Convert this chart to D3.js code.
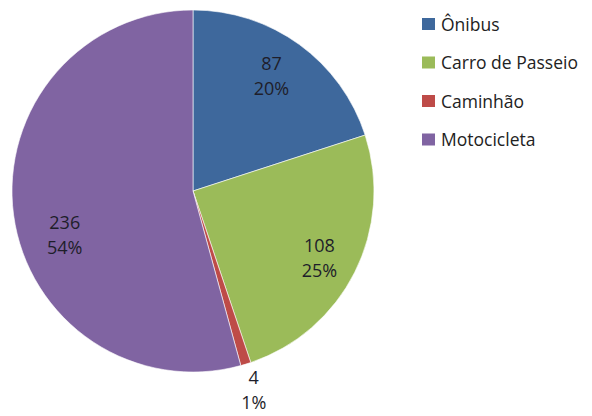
<!DOCTYPE html>
<html><head><meta charset="utf-8">
<script src="https://cdn.jsdelivr.net/npm/d3@7"></script>
<style>
html,body{margin:0;padding:0;background:#fff;}
text{font-family:"Open Sans",Lato,sans-serif;}
</style></head>
<body><svg id="c" width="592" height="416"></svg>
<script>
const categories = ["Ônibus","Carro de Passeio","Caminhão","Motocicleta"];
const values = [87,108,4,236];
const percentLabels = ["20%","25%","1%","54%"];
const colors = ["#3E689C","#9BBB59","#BE4B48","#8064A2"];

const svg = d3.select("#c");
const cx = 193, cy = 191, r = 181;
const g = svg.append("g").attr("transform",`translate(${cx},${cy})`);
const pie = d3.pie().sort(null).value(d=>d)(values);
const arc = d3.arc().innerRadius(0).outerRadius(r);
g.selectAll("path").data(pie).join("path")
  .attr("d",arc).attr("fill",(d,i)=>colors[i])
  .attr("stroke","#fff").attr("stroke-width",0.6);

// label placement: radial factor and small angle shift per slice
const labelRadius = [0.77,0.79,1.15,0.75];
const labelShift = [-0.03,0.02,0,-0.2];
pie.forEach((d,i)=>{
  const a = (d.startAngle+d.endAngle)/2 + labelShift[i];
  const k = labelRadius[i]*r;
  const x = Math.sin(a)*k, y = -Math.cos(a)*k;
  const t = g.append("text").attr("text-anchor","middle").attr("fill","#1e1e2a").attr("font-size",18);
  t.append("tspan").attr("x",x).attr("y",y-6).text(values[i]);
  t.append("tspan").attr("x",x).attr("y",y+19).text(percentLabels[i]);
});

const lg = svg.append("g").attr("transform","translate(422,18)");
categories.forEach((c,i)=>{
  const row = lg.append("g").attr("transform",`translate(0,${i*38.5})`);
  row.append("rect").attr("width",13).attr("height",12).attr("fill",colors[i]);
  row.append("text").attr("x",19).attr("y",12.5).attr("font-size",17.5).attr("fill","#222").text(c);
});
</script></body></html>
